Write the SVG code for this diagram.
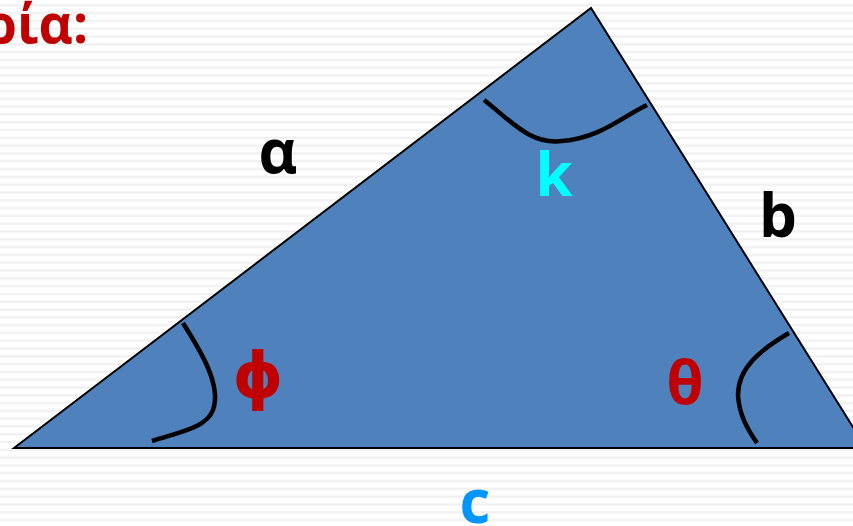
<svg xmlns="http://www.w3.org/2000/svg" width="853" height="526" viewBox="0 0 853 526">
<style>
.lbl{font-family:"Open Sans","Liberation Sans",sans-serif;font-weight:bold;font-size:60px;text-anchor:middle}
.arc{fill:none;stroke:#000;stroke-width:4.5;stroke-linecap:butt}
</style>
<defs>
<pattern id="stripes" patternUnits="userSpaceOnUse" x="0" y="0" width="853" height="7.8">
<rect x="0" y="0" width="853" height="7.8" fill="#ffffff"/>
<rect x="0" y="4.3" width="853" height="2" fill="#efefef"/>
</pattern>
</defs>
<rect x="0" y="0" width="853" height="526" fill="url(#stripes)"/>
<text x="88" y="43" font-family="'Open Sans','Liberation Sans',sans-serif" font-weight="bold" font-size="53" fill="#C00000" text-anchor="end">ρία:</text>
<g id="triangle">
<polygon points="14,448 591,8 866,448" fill="#4F81BD" stroke="#000" stroke-width="2" stroke-linejoin="miter"/>
</g>
<g id="angles">
<path class="arc" d="M183,323 C200,350 222,385 213,410 C206,428 180,432 152,441"/>
<path class="arc" d="M484,100 C510,120 530,145 562,141 C600,138 620,118 647,105"/>
<path class="arc" d="M789,333 C760,350 738,368 738,395 C739,415 748,430 757,443"/>
</g>
<g id="labels">
<text class="lbl" x="258" y="398" fill="#C00000" style="font-family:'DejaVu Sans',sans-serif;font-size:64px">ϕ</text>
<text class="lbl" x="278" y="173" fill="#000">α</text>
<text class="lbl" x="554" y="196" fill="#00FFFF">k</text>
<text class="lbl" x="778" y="237" fill="#000">b</text>
<text class="lbl" x="685" y="404" fill="#C00000">θ</text>
<text class="lbl" x="475" y="523" fill="#0096FF">c</text>
</g>
</svg>
